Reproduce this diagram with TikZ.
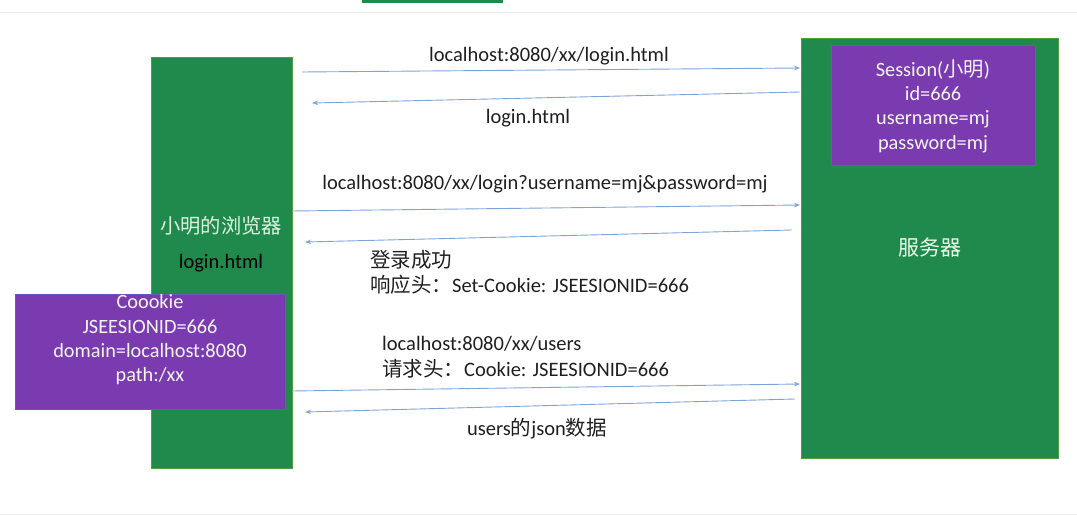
\documentclass[tikz,border=0pt]{standalone}
\usepackage{fontspec}
\setmainfont{Carlito}
\newfontfamily\cjk{Noto Sans CJK SC}
\usetikzlibrary{arrows.meta}
\definecolor{boxgreen}{HTML}{1F8A4C}
\definecolor{boxpurple}{HTML}{7A3BB0}
\definecolor{arrowblue}{HTML}{7FA3D6}
\definecolor{lightgreentext}{HTML}{DDF3E0}
\newcommand{\zh}[1]{{\cjk #1}}
\tikzset{
  greenbox/.style={fill=boxgreen, draw=boxgreen!80!yellow, line width=0.6pt, anchor=north west, inner sep=0pt},
  purplebox/.style={fill=boxpurple, draw=boxpurple!85!cyan, line width=0.6pt, anchor=north west, inner sep=0pt},
  msg/.style={draw=arrowblue, line width=0.9pt, -{Stealth[length=6pt,width=4.5pt]}},
  lbl/.style={font=\fontsize{20.5}{24}\selectfont, text=black!88, inner sep=0pt},
  boxtext/.style={font=\fontsize{20.3}{24.3}\selectfont, text=white!92!gray, align=center, inner sep=0pt},
}
\begin{document}
\begin{tikzpicture}[x=1pt,y=-1pt]
\useasboundingbox (0,0) rectangle (1077,516);
% top strip remnants
\fill[boxgreen] (362,0) rectangle (503,3);
\draw[black!8, line width=1pt] (0,13) -- (1077,13);
\draw[black!6, line width=1pt] (0,514) -- (1077,514);

% boxes
\node[greenbox, minimum width=141pt, minimum height=411pt] (browser) at (151,57) {};
\node[greenbox, minimum width=257pt, minimum height=420pt] (server) at (801,38) {};
\node[purplebox, minimum width=204pt, minimum height=120pt] (session) at (831,45) {};
\node[purplebox, minimum width=270pt, minimum height=115pt] (cookie) at (15,294) {};

% box texts
\node[font=\fontsize{20.3}{24}\selectfont\cjk, text=lightgreentext, inner sep=0pt] (btitle) at (221,226) {小明的浏览器};
\node[font=\fontsize{20.5}{24}\selectfont, text=black, inner sep=0pt] (bpage) at (221,263) {login.html};
\node[font=\fontsize{21}{24}\selectfont\cjk, text=white!92!green, inner sep=0pt] (stitle) at (930,248) {服务器};
\node[boxtext] (stext) at (933,106) {Session(\zh{小明})\\id=666\\username=mj\\password=mj};
\node[boxtext] (ctext) at (150,340) {Coookie\\JSEESIONID=666\\domain=localhost:8080\\path:/xx};

% arrow end points
\coordinate (a1s) at (302,72);  \coordinate (a1e) at (800,68);
\coordinate (a2s) at (800,92);  \coordinate (a2e) at (312,103);
\coordinate (a3s) at (292,211); \coordinate (a3e) at (800,205);
\coordinate (a4s) at (792,230); \coordinate (a4e) at (305,242);
\coordinate (a5s) at (292,391); \coordinate (a5e) at (800,384);
\coordinate (a6s) at (795,399); \coordinate (a6e) at (305,412);

\draw[msg] (a1s) -- (a1e);
\draw[msg] (a2s) -- (a2e);
\draw[msg] (a3s) -- (a3e);
\draw[msg] (a4s) -- (a4e);
\draw[msg] (a5s) -- (a5e);
\draw[msg] (a6s) -- (a6e);

% labels
\node[lbl] (l1) at (549,56) {localhost:8080/xx/login.html};
\node[lbl] (l2) at (528,118) {login.html};
\node[lbl] (l3) at (545,184) {localhost:8080/xx/login?username=mj\&password=mj};
\node[lbl, anchor=west] (l4a) at (370,260) {\zh{登录成功}};
\node[lbl, anchor=west] (l4b) at (370,285) {\zh{响应头：}Set-Cookie: JSEESIONID=666};
\node[lbl, anchor=west] (l5a) at (382,344) {localhost:8080/xx/users};
\node[lbl, anchor=west] (l5b) at (382,369) {\zh{请求头：}Cookie: JSEESIONID=666};
\node[lbl] (l6) at (537,429) {users\zh{的}json\zh{数据}};
\end{tikzpicture}
\end{document}
